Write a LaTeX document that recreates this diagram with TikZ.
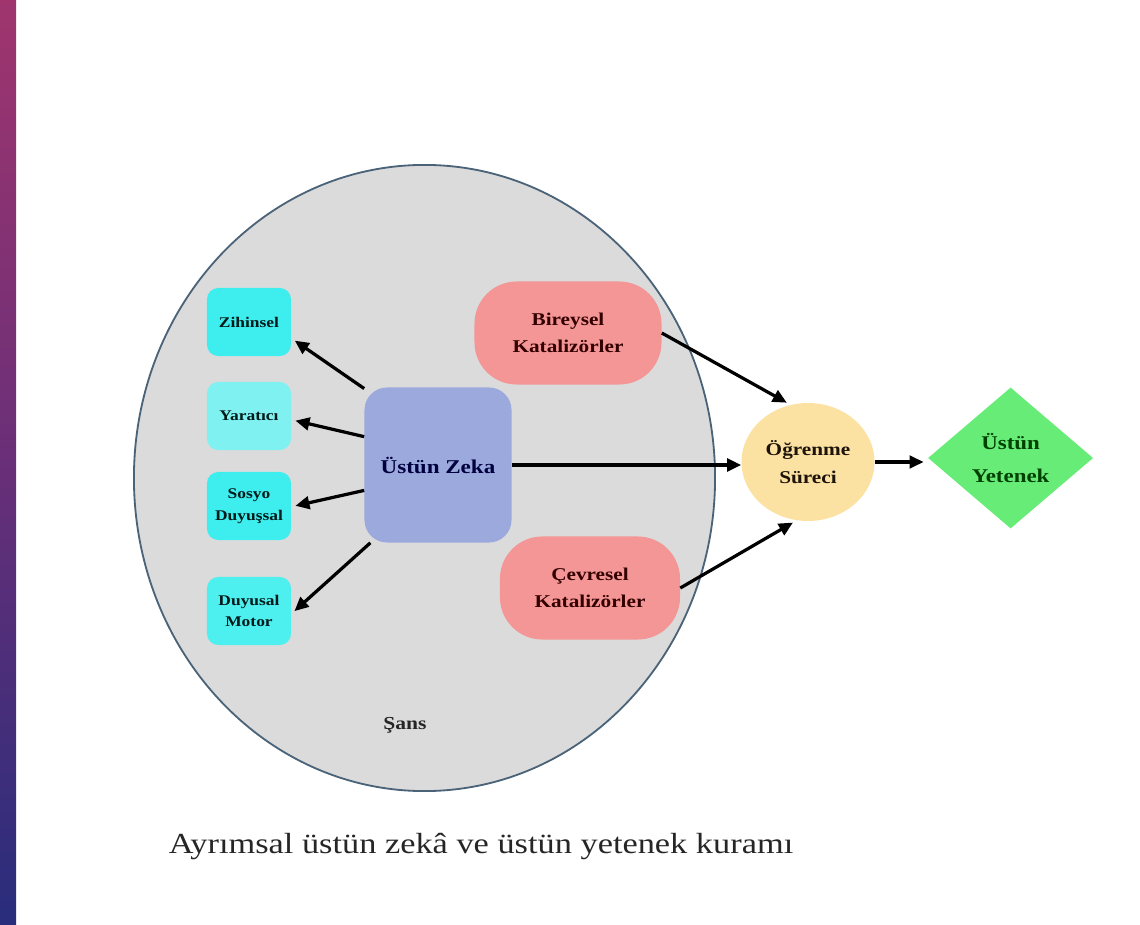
\documentclass[tikz,border=0pt]{standalone}
\usepackage{fontspec}
\setmainfont{Liberation Serif}[FakeStretch=1.18]
\usetikzlibrary{positioning, shapes.geometric, arrows.meta}

\definecolor{sansfill}{HTML}{DCDBDB}
\definecolor{sansline}{HTML}{4A6378}
\definecolor{cyanA}{HTML}{3EEEEE}
\definecolor{cyanB}{HTML}{7FF1F1}
\definecolor{zekafill}{HTML}{9CA9DD}
\definecolor{katfill}{HTML}{F49696}
\definecolor{surecfill}{HTML}{FBE2A2}
\definecolor{yetfill}{HTML}{68EC78}

\begin{document}
\begin{tikzpicture}[x=0.025cm, y=-0.025cm,
		subbox/.style={rectangle, rounded corners=8pt, inner sep=0pt, minimum width=2.1cm, minimum height=1.7cm, align=center, text=black!80!teal, font=\bfseries\fontsize{10.5}{15.5}\selectfont},
		zekabox/.style={rectangle, rounded corners=16pt, fill=zekafill, inner sep=0pt, minimum width=3.675cm, minimum height=3.875cm, text=black!75!blue, font=\bfseries\fontsize{13.9}{17}\selectfont},
		katbox/.style={rectangle, rounded corners=30pt, fill=katfill, inner sep=0pt, minimum height=2.575cm, align=center, text=black!80!red, font=\bfseries\fontsize{12.8}{19}\selectfont},
		surec/.style={ellipse, fill=surecfill, inner sep=0pt, minimum width=3.325cm, minimum height=2.95cm, align=center, text=black!85!brown, font=\bfseries\fontsize{12.8}{20}\selectfont},
		yetenek/.style={diamond, fill=yetfill, inner sep=0pt, minimum width=4.125cm, minimum height=3.525cm, align=center, text=black!75!green, font=\bfseries\fontsize{13.8}{23}\selectfont},
		arr/.style={-{Triangle[length=10pt, width=9pt]}, line width=2.3pt, shorten >=3pt},
		mylabel/.style={font=\bfseries\fontsize{13}{15}\selectfont, text=black!85}
	]

	\useasboundingbox (0,0) rectangle (1140,925);
	\fill[top color={rgb,255:red,160;green,53;blue,110}, bottom color={rgb,255:red,40;green,45;blue,124}, middle color={rgb,255:red,105;green,47;blue,120}] (0,0) rectangle (16,925);

	% big circle
	\node[ellipse, draw=sansline, line width=1.3pt, fill=sansfill, minimum width=14.525cm, minimum height=15.65cm] (sans) at (424.5,478) {};
	\node[mylabel] (sanstext) at (405,725) {Şans};

	\node[zekabox] (zeka) at (438,465) {Üstün Zeka};
	\node[subbox, fill=cyanA] (zih) at (249,322) {Zihinsel};
	\node[subbox, fill=cyanB] (yar) at (249,416) {Yaratıcı};
	\node[subbox, fill=cyanA] (sos) at (249,506) {Sosyo\\Duyuşsal};
	\node[subbox, fill=cyanA!75!cyanB] (duy) at (249,611) {Duyusal\\Motor};

	\node[katbox, minimum width=4.675cm] (bir) at (568,333) {Bireysel\\Katalizörler};
	\node[katbox, minimum width=4.5cm] (cev) at (590,588) {Çevresel\\Katalizörler};

	\node[surec] (ogr) at (808,462) {Öğrenme\\Süreci};
	\node[yetenek, right=53*0.025cm of ogr, yshift=0.1cm] (yet) {Üstün\\Yetenek};

	\node[anchor=base, font=\fontsize{20.7}{24}\selectfont, text=black!85] (caption) at (481,853) {Ayrımsal üstün zekâ ve üstün yetenek kuramı};

	\foreach \i/\j in {zeka.134/zih.-21, zeka.159/yar.-5, zeka.199/sos.-1, zeka.229/duy.-4}
		\draw[arr] (\i) -- (\j);

	\draw[arr, shorten >=0pt] (zeka.east) -- (zeka.east -| ogr.west);
	\draw[arr] (bir.east) -- (ogr.107);
	\draw[arr] (cev.east) -- (ogr.-101);
	\draw[arr] (ogr.east) -- (ogr.east -| yet.west);

\end{tikzpicture}
\end{document}
